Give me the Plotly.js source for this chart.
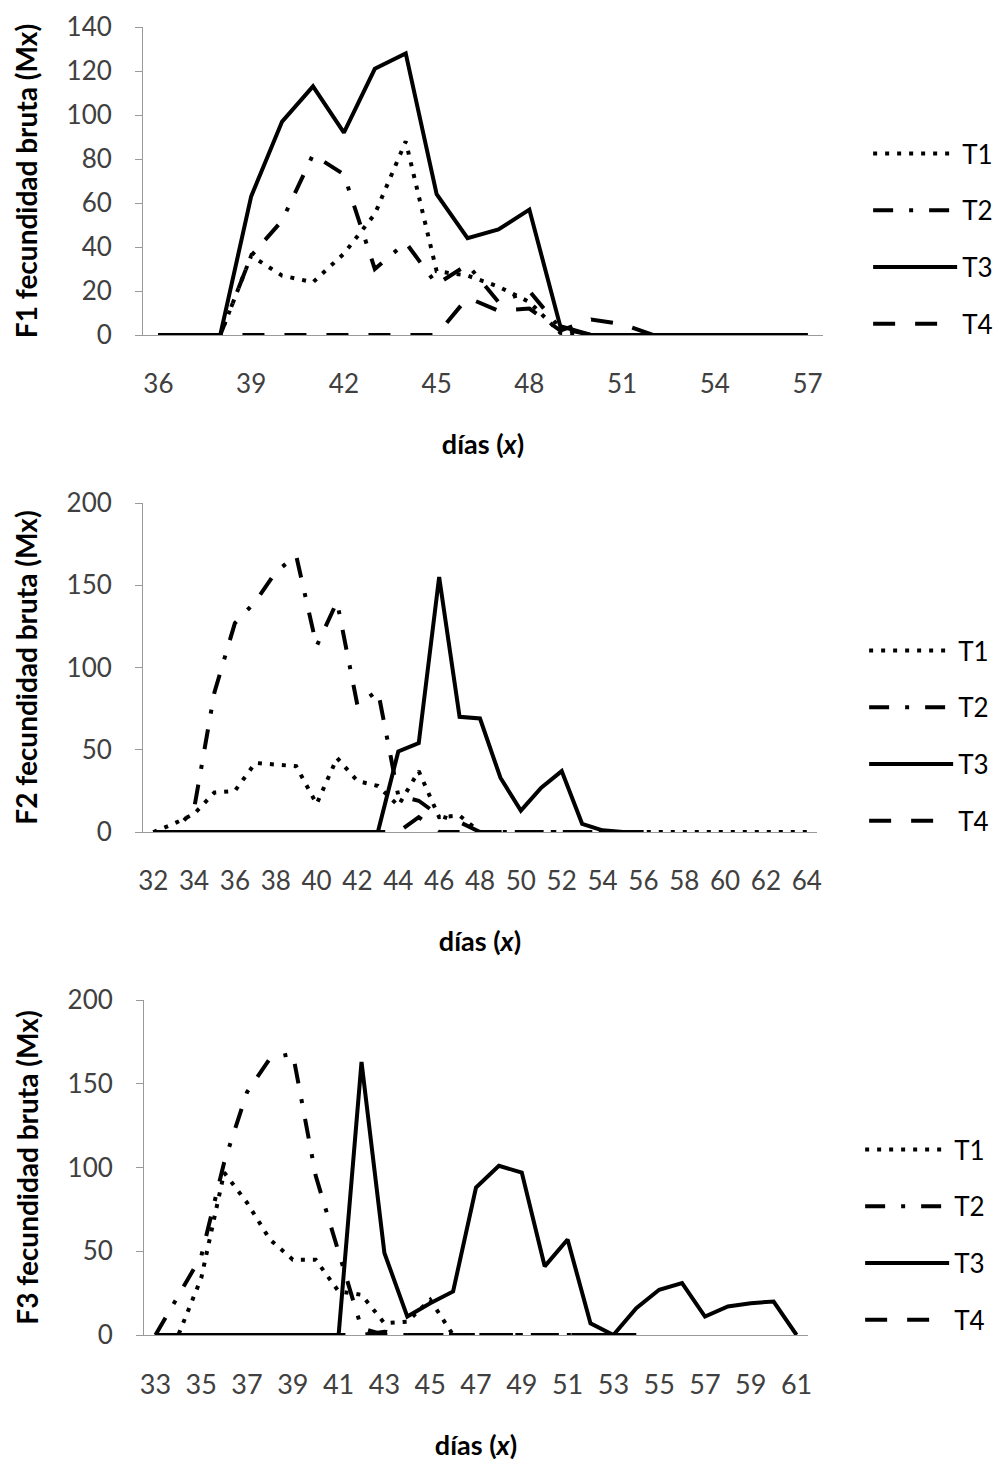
<!DOCTYPE html>
<html><head><meta charset="utf-8">
<script src="https://cdn.plot.ly/plotly-3.0.1.min.js"></script>
<style>html,body{margin:0;padding:0;background:#fff}</style>
</head><body><div id="chart" style="width:999px;height:1466px"></div>
<script>
// ---------- Data ----------
const seriesNames = ['T1', 'T2', 'T3', 'T4'];

// Panel F1
const days1 = [36,37,38,39,40,41,42,43,44,45,46,47,48,49,50,51,52,53,54,55,56,57];
const f1_T1 = [0,0,0,36,27,24,37,55,88,29,27,22,15,1,0,0,0,0,0,0,0,0];
const f1_T2 = [0,0,0,36,52,82,73,30,42,23,32,15,20,3,0,0,0,0,0,0,0,0];
const f1_T3 = [0,0,0,63,97,113,92,121,128,64,44,48,57,4,0,0,0,0,0,0,0,0];
const f1_T4 = [0,0,0,0,0,0,0,0,0,0,17,11,12,2,7,5,0,0,0,0,0,0];
const ticks1 = [36,39,42,45,48,51,54,57];
const yticks1 = [0,20,40,60,80,100,120,140];

// Panel F2
const days2 = [32,33,34,35,36,37,38,39,40,41,42,43,44,45,46,47,48,49,50,51,52,53,54,55,56,57,58,59,60,61,62,63,64];
const f2_T1 = [0,5,11,24,25,42,41,40,17,45,31,28,16,37,9,10,0,0,0,0,0,0,0,0,0,0,0,0,0,0,0,0,0];
const f2_T2 = [0,0,14,85,127,140,158,168,113,140,77,86,22,19,10,6,0,0,0,0,0,0,0,0,0,null,null,null,null,null,null,null,null];
const f2_T3 = [0,0,0,0,0,0,0,0,0,0,0,0,49,54,155,70,69,33,13,27,37,5,1,0,0,null,null,null,null,null,null,null,null];
const f2_T4 = [0,0,0,0,0,0,0,0,0,0,0,0,0,9,0,0,0,0,0,0,0,0,0,0,0,null,null,null,null,null,null,null,null];
const ticks2 = [32,34,36,38,40,42,44,46,48,50,52,54,56,58,60,62,64];
const yticks2 = [0,50,100,150,200];

// Panel F3
const days3 = [33,34,35,36,37,38,39,40,41,42,43,44,45,46,47,48,49,50,51,52,53,54,55,56,57,58,59,60,61];
const f3_T1 = [0,0,34,97,79,57,45,45,26,24,7,8,21,0,0,0,0,0,0,0,0,0,null,null,null,null,null,null,null];
const f3_T2 = [0,23,47,103,145,165,168,95,50,4,0,0,0,0,0,0,0,0,0,0,0,0,null,null,null,null,null,null,null];
const f3_T3 = [0,0,0,0,0,0,0,0,0,163,49,11,19,26,88,101,97,41,57,7,0,16,27,31,11,17,19,20,0];
const f3_T4 = [0,0,0,0,0,0,0,0,0,0,2,0,0,0,0,0,0,0,0,0,0,0,null,null,null,null,null,null,null];
const ticks3 = [33,35,37,39,41,43,45,47,49,51,53,55,57,59,61];
const yticks3 = [0,50,100,150,200];

// ---------- Styles ----------
const FONT = 'Lato, "Open Sans", sans-serif';
const styles = {
  T1: {dash: '4px,8px', width: 4},
  T2: {dash: '20px,16px,4px,16px', width: 4},
  T3: {dash: 'solid', width: 4},
  T4: {dash: '22px,20px', width: 4}
};

function makeTraces(days, data, xa, ya, leg, panel) {
  return seriesNames.map((n, i) => ({
    type: 'scatter', mode: 'lines', name: n,
    x: days, y: data[i], xaxis: xa, yaxis: ya,
    legend: leg, legendgroup: panel + n,
    connectgaps: false,
    line: {color: '#000', width: styles[n].width, dash: styles[n].dash},
    hoverinfo: 'skip'
  }));
}

const traces = [].concat(
  makeTraces(days1, [f1_T1, f1_T2, f1_T3, f1_T4], 'x', 'y', 'legend', 'p1'),
  makeTraces(days2, [f2_T1, f2_T2, f2_T3, f2_T4], 'x2', 'y2', 'legend2', 'p2'),
  makeTraces(days3, [f3_T1, f3_T2, f3_T3, f3_T4], 'x3', 'y3', 'legend3', 'p3')
);

const AX = '#9a9a9a';
// category axis: labels every `step` days
function xAxis(domain, days, tickvals, anchor, fs) {
  const step = tickvals[1] - tickvals[0];
  return {
    domain: domain, range: [days[0] - 0.5, days[days.length - 1] + 0.5], anchor: anchor,
    tickmode: 'linear', tick0: tickvals[0], dtick: step,
    ticks: '', showgrid: false, zeroline: false,
    showline: true, linecolor: AX, linewidth: 1,
    tickfont: {family: FONT, size: fs, color: '#404040'},
    ticklabelstandoff: 26,
    title: {text: 'días (<i>x</i>)', font: {family: FONT, size: 27, color: '#000', weight: 700}, standoff: 36},
    automargin: false, fixedrange: true
  };
}
function yAxis(domain, tickvals, label, anchor) {
  return {
    domain: domain, range: [tickvals[0], tickvals[tickvals.length - 1]], anchor: anchor,
    tickmode: 'linear', tick0: tickvals[0], dtick: tickvals[1] - tickvals[0],
    ticks: 'outside', ticklen: 7, tickcolor: AX, tickwidth: 1,
    showgrid: false, zeroline: false,
    showline: true, linecolor: AX, linewidth: 1,
    tickfont: {family: FONT, size: 26, color: '#404040'},
    ticklabelstandoff: 18,
    title: {text: label, font: {family: FONT, size: 28, color: '#000', weight: 700}, standoff: 20},
    automargin: false, fixedrange: true
  };
}
// tick marks between categories (Excel-style category axis)
function categoryTicks(days, every, xref, yref) {
  const out = [];
  const first = days[0] - 0.5, last = days[days.length - 1] + 0.5;
  for (let b = first; b <= last + 1e-9; b += every) {
    out.push({type: 'line', xref: xref, yref: yref, x0: b, x1: b,
              ysizemode: 'pixel', yanchor: 0, y0: 0, y1: -8,
              line: {color: AX, width: 1}, layer: 'above'});
  }
  return out;
}
function legendCfg(x, y) {
  return {
    x: x, y: y, xanchor: 'left', yanchor: 'top',
    font: {family: FONT, size: 26, color: '#000'},
    itemwidth: 84, traceorder: 'grouped', tracegroupgap: 20,
    bgcolor: 'rgba(0,0,0,0)', borderwidth: 0
  };
}

const dom1 = [143/999, 823/999], dom2 = [143/999, 817/999], dom3 = [144/999, 808/999];

const layout = {
  width: 999, height: 1466,
  margin: {l: 0, r: 0, t: 0, b: 0},
  paper_bgcolor: '#fff', plot_bgcolor: '#fff',
  showlegend: true,
  xaxis: xAxis(dom1, days1, ticks1, 'y', 26),
  yaxis: yAxis([1 - 335/1466, 1 - 27/1466], yticks1, 'F1 fecundidad bruta (Mx)', 'x'),
  xaxis2: xAxis(dom2, days2, ticks2, 'y2', 26),
  yaxis2: yAxis([1 - 832/1466, 1 - 503/1466], yticks2, 'F2 fecundidad bruta (Mx)', 'x2'),
  xaxis3: xAxis(dom3, days3, ticks3, 'y3', 27),
  yaxis3: yAxis([1 - 1335/1466, 1 - 1000/1466], yticks3, 'F3 fecundidad bruta (Mx)', 'x3'),
  shapes: [].concat(
    categoryTicks(days1, 3, 'x', 'y'),
    categoryTicks(days2, 1, 'x2', 'y2'),
    categoryTicks(days3, 1, 'x3', 'y3')
  ),
  legend: legendCfg(0.869, 1 - 130/1466),
  legend2: legendCfg(0.865, 1 - 627/1466),
  legend3: legendCfg(0.861, 1 - 1126/1466)
};

Plotly.newPlot('chart', traces, layout, {displayModeBar: false, staticPlot: true});
</script>
</body></html>
